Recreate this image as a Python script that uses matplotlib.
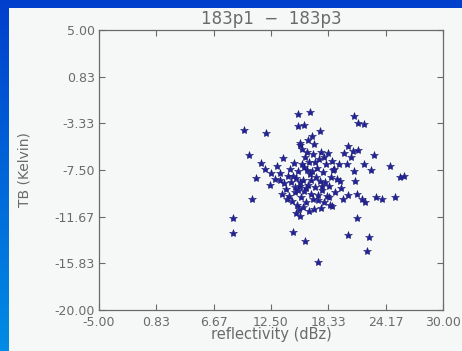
import matplotlib
matplotlib.use("Agg")
import matplotlib.pyplot as plt
from matplotlib.ticker import FixedLocator, FormatStrFormatter
import numpy as np

# reflectivity (dBz) and TB difference (Kelvin)
refl = [9.8, 12.0, 8.6, 8.6, 10.3, 11.0, 10.6, 15.2, 16.5, 15.2, 15.9, 17.5,
        16.7, 20.9, 21.4, 22.0, 15.4, 13.7, 23.0, 24.6, 25.6, 26.0, 20.3, 21.4,
        20.8, 20.2, 20.9, 22.0, 22.7, 11.5, 11.9, 12.5, 12.4, 13.4, 20.3, 21.2,
        22.1, 23.2, 23.8, 25.1, 21.3, 20.3, 22.5, 22.3, 14.7, 16.0, 17.3, 15.5,
        18.7, 19.5, 18.8,
        14.2, 14.5, 14.0, 14.3, 14.6, 14.9, 15.0, 15.2, 15.4, 15.1, 15.6, 15.8,
        15.9, 16.0, 15.7, 16.2, 16.4, 16.5, 16.3, 16.6, 16.1, 16.8, 17.0, 17.1,
        17.2, 17.4, 17.6, 17.9, 18.1, 17.8, 17.5, 17.7, 17.3, 17.9, 18.2, 18.4,
        18.6, 18.9, 19.2, 19.0, 18.5, 16.9, 16.3, 15.5, 14.8, 14.4, 13.8, 13.6,
        14.1, 15.3, 16.4, 15.0, 15.7, 16.7, 17.0, 18.3, 18.7, 19.4, 19.6, 18.0,
        16.1, 15.2, 14.7, 13.1, 13.4, 12.9, 19.8, 17.6, 16.9, 15.8, 20.6, 21.0,
        19.9, 21.8, 16.6, 17.3, 15.9, 14.9, 16.2, 17.7, 18.4, 15.4, 16.8]
tb = [-3.9, -4.2, -11.8, -13.1, -6.2, -8.2, -10.1, -2.5, -2.3, -3.6, -3.5, -4.0,
      -4.5, -2.7, -3.3, -3.4, -5.3, -6.4, -6.2, -7.1, -8.1, -8.0, -5.4, -5.7,
      -5.8, -7.0, -7.6, -7.0, -7.5, -6.9, -7.4, -7.8, -8.8, -8.4, -9.7, -9.6,
      -10.4, -9.9, -10.1, -9.9, -11.8, -13.3, -13.5, -14.7, -13.0, -13.8, -15.7, -11.6,
      -10.7, -8.5, -7.5,
      -8.0, -8.6, -9.2, -9.8, -10.3, -9.5, -8.2, -7.6, -8.9, -10.6, -9.9, -8.4,
      -7.2, -6.3, -5.6, -5.9, -6.8, -7.9, -8.8, -9.6, -10.4, -10.1, -9.0, -8.1,
      -7.3, -6.5, -5.9, -6.3, -7.0, -7.7, -8.5, -9.3, -10.2, -10.4, -9.8, -8.9,
      -8.1, -7.4, -8.3, -9.5, -10.6, -5.2, -4.8, -5.1, -6.9, -7.4, -8.7, -9.6,
      -10.1, -11.0, -11.2, -11.3, -7.0, -7.6, -6.8, -6.0, -6.7, -7.0, -9.1, -8.6,
      -9.1, -9.3, -8.0, -7.1, -7.8, -8.3, -10.1, -10.9, -11.0, -10.8, -6.3, -8.5,
      -6.0, -10.1, -8.4, -9.7, -9.4, -9.0, -7.5, -8.9, -9.9, -8.6, -6.1]

xticks = [-5.00, 0.83, 6.67, 12.50, 18.33, 24.17, 30.00]
yticks = [5.00, 0.83, -3.33, -7.50, -11.67, -15.83, -20.00]

W, H = 462, 351
fig = plt.figure(figsize=(W / 100, H / 100), dpi=100)

# blue slide background with a vertical gradient
bg = fig.add_axes([0, 0, 1, 1])
grad = np.linspace(0, 1, 256)[:, None, None]
top = np.array([0.0, 0.25, 0.80])
bot = np.array([0.0, 0.55, 0.90])
img = top * (1 - grad) + bot * grad
bg.imshow(np.repeat(img, 2, axis=1), aspect="auto", extent=[0, 1, 0, 1])
bg.set_axis_off()

# white panel
panel = fig.add_axes([9 / W, 0, 1 - 9 / W, (H - 8) / H])
panel.set_facecolor("#f6f8f7")
panel.set_xticks([])
panel.set_yticks([])
for s in panel.spines.values():
    s.set_visible(False)

grey = "#6a6a6a"
ax = fig.add_axes([99 / W, 1 - 310 / H, (443 - 99) / W, (310 - 30) / H])
ax.set_facecolor("#f6f8f7")
ax.plot(refl, tb, linestyle="none", marker="*", markersize=6,
        color="#22229a", markeredgecolor="#1a1a70", markeredgewidth=0.4)

ax.set_xlim(-5, 30)
ax.set_ylim(-20, 5)
ax.xaxis.set_major_locator(FixedLocator(xticks))
ax.yaxis.set_major_locator(FixedLocator(yticks))
ax.xaxis.set_major_formatter(FormatStrFormatter("%.2f"))
ax.yaxis.set_major_formatter(FormatStrFormatter("%.2f"))
ax.tick_params(direction="in", length=4, width=0.8, color=grey,
               labelcolor=grey, labelsize=9, top=True, right=True, pad=3)
ax.tick_params(axis="x", pad=4)
for s in ax.spines.values():
    s.set_color(grey)
    s.set_linewidth(0.9)

ax.set_title("183p1  \u2212  183p3", fontsize=12, color=grey, pad=4)
ax.set_xlabel("reflectivity (dBz)", fontsize=10.5, color=grey, labelpad=-1)
ax.set_ylabel("TB (Kelvin)", fontsize=10, color=grey)
ax.yaxis.set_label_coords(-0.195, 0.5)

fig.savefig("out.png", dpi=100)
